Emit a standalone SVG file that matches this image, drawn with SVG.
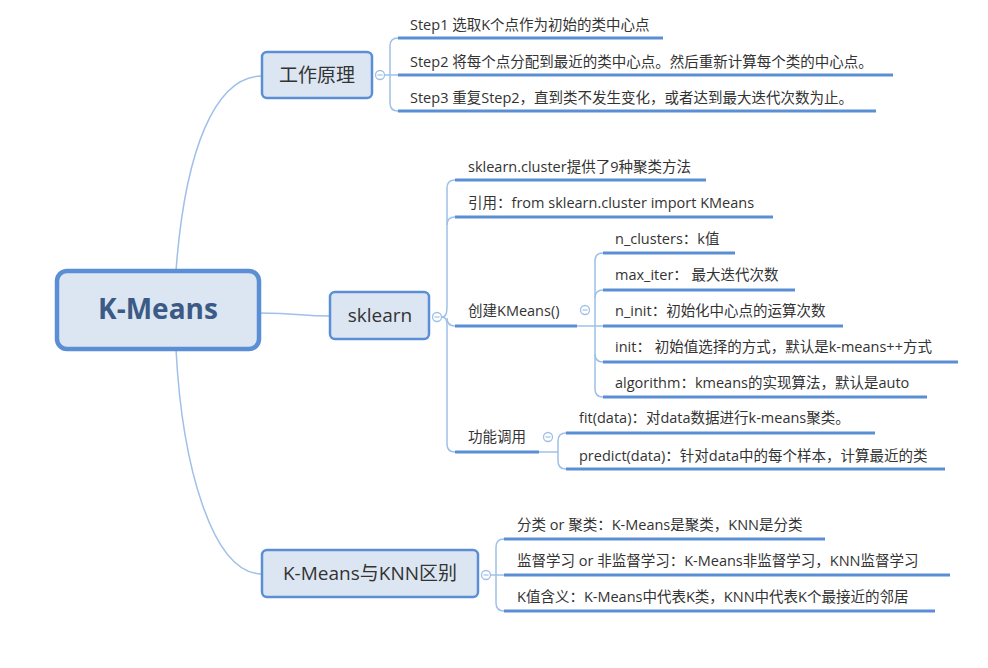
<svg xmlns="http://www.w3.org/2000/svg" width="988" height="668" viewBox="0 0 988 668">
<style>
.bg{fill:#ffffff}
.root{fill:#dce6f2;stroke:#5b8fd5;stroke-width:4.5}
.box{fill:#dce6f2;stroke:#5b8fd5;stroke-width:2.5}
.thin{fill:none;stroke:#9fc0e8;stroke-width:1.5}
.ul{fill:none;stroke:#5b8fd5;stroke-width:3}
.col{fill:#ffffff;stroke:#9fc0e8;stroke-width:1.3}
.minus{stroke:#9fc0e8;stroke-width:1.2}
text{font-family:"Open Sans","Noto Sans CJK SC",sans-serif;fill:#333333}
.t-root{font-size:28px;font-weight:bold;fill:#3b5a85;text-anchor:middle}
.t-l1{font-size:19px;text-anchor:middle}
.t-c{font-size:14.5px}
</style>
<defs>
<g id="collapse"><circle r="4.5" class="col"/><line x1="-2.5" y1="0" x2="2.5" y2="0" class="minus"/></g>
</defs>
<rect class="bg" x="0" y="0" width="988" height="668"/>

<g id="connectors">
<path class="thin" d="M176,271 C185,150 215,76 262,76"/>
<path class="thin" d="M259,313 C300,313 300,316 330,316"/>
<path class="thin" d="M176,349 C182,465 212,574 262,574"/>
<!-- 工作原理 bracket -->
<path class="thin" d="M384.5,75 H398"/>
<path class="thin" d="M390,75 V46 Q390,38 398,38"/>
<path class="thin" d="M390,75 V103 Q390,111 398,111"/>
<!-- sklearn bracket -->
<path class="thin" d="M441.5,317 C446,317 447,314 447,305 V188 Q447,180 455,180"/>
<path class="thin" d="M447,225 Q447,217 455,217"/>
<path class="thin" d="M441.5,317 C446,317 447,320 447,326 V444 Q447,452 455,452"/>
<path class="thin" d="M447,318 Q447,326 455,326"/>
<!-- 创建KMeans bracket -->
<path class="thin" d="M577,326 H603"/>
<path class="thin" d="M595,326 V261 Q595,253 603,253"/>
<path class="thin" d="M595,298 Q595,290 603,290"/>
<path class="thin" d="M595,326 V389 Q595,397 603,397"/>
<path class="thin" d="M595,354 Q595,362 603,362"/>
<!-- 功能调用 bracket -->
<path class="thin" d="M539,452 H558"/>
<path class="thin" d="M558,452 V441 Q558,433 566,433"/>
<path class="thin" d="M558,452 V461 Q558,469 566,469"/>
<!-- KNN bracket -->
<path class="thin" d="M490.5,575 H504"/>
<path class="thin" d="M496,575 V547 Q496,539 504,539"/>
<path class="thin" d="M496,575 V603 Q496,611 504,611"/>
</g>

<g id="node-root">
<rect class="root" x="57" y="271" width="202" height="78" rx="10"/>
<text class="t-root" x="158" y="319">K-Means</text>
</g>

<g id="node-principle">
<rect class="box" x="262" y="52" width="110" height="46" rx="5"/>
<text class="t-l1" x="317" y="82">工作原理</text>
<use href="#collapse" x="380" y="75"/>
</g>
<g id="node-step1"><path class="ul" d="M398,38 H663"/><text class="t-c" x="410" y="30">Step1 选取K个点作为初始的类中心点</text></g>
<g id="node-step2"><path class="ul" d="M398,75 H893"/><text class="t-c" x="410" y="67">Step2 将每个点分配到最近的类中心点。然后重新计算每个类的中心点。</text></g>
<g id="node-step3"><path class="ul" d="M398,111 H876"/><text class="t-c" x="410" y="103">Step3 重复Step2，直到类不发生变化，或者达到最大迭代次数为止。</text></g>

<g id="node-sklearn">
<rect class="box" x="330" y="292" width="99" height="47" rx="5"/>
<text class="t-l1" x="380" y="322">sklearn</text>
<use href="#collapse" x="437" y="317"/>
</g>
<g id="node-cluster"><path class="ul" d="M455,180 H706"/><text class="t-c" x="468" y="172">sklearn.cluster提供了9种聚类方法</text></g>
<g id="node-import"><path class="ul" d="M455,217 H773"/><text class="t-c" x="468" y="208">引用：from sklearn.cluster import KMeans</text></g>
<g id="node-create">
<path class="ul" d="M455,326 H577"/><text class="t-c" x="468" y="316">创建KMeans()</text>
<use href="#collapse" x="585" y="310"/>
</g>
<g id="node-nclusters"><path class="ul" d="M603,253 H735"/><text class="t-c" x="615" y="244">n_clusters：k值</text></g>
<g id="node-maxiter"><path class="ul" d="M603,290 H795"/><text class="t-c" x="615" y="280">max_iter： 最大迭代次数</text></g>
<g id="node-ninit"><path class="ul" d="M603,326 H843"/><text class="t-c" x="615" y="316">n_init：初始化中心点的运算次数</text></g>
<g id="node-init"><path class="ul" d="M603,362 H958"/><text class="t-c" x="615" y="352">init： 初始值选择的方式，默认是k-means++方式</text></g>
<g id="node-algorithm"><path class="ul" d="M603,397 H927"/><text class="t-c" x="615" y="388">algorithm：kmeans的实现算法，默认是auto</text></g>
<g id="node-func">
<path class="ul" d="M455,452 H539"/><text class="t-c" x="468" y="442">功能调用</text>
<use href="#collapse" x="548" y="437"/>
</g>
<g id="node-fit"><path class="ul" d="M566,433 H875"/><text class="t-c" x="579" y="423">fit(data)：对data数据进行k-means聚类。</text></g>
<g id="node-predict"><path class="ul" d="M566,469 H945"/><text class="t-c" x="579" y="461">predict(data)：针对data中的每个样本，计算最近的类</text></g>

<g id="node-knn">
<rect class="box" x="262" y="550" width="216" height="47" rx="5"/>
<text class="t-l1" x="370" y="580">K-Means与KNN区别</text>
<use href="#collapse" x="486" y="575"/>
</g>
<g id="node-cls"><path class="ul" d="M504,539 H825"/><text class="t-c" x="517" y="530">分类 or 聚类：K-Means是聚类，KNN是分类</text></g>
<g id="node-sup"><path class="ul" d="M504,575 H950"/><text class="t-c" x="517" y="566">监督学习 or 非监督学习：K-Means非监督学习，KNN监督学习</text></g>
<g id="node-kval"><path class="ul" d="M504,611 H935"/><text class="t-c" x="517" y="602">K值含义：K-Means中代表K类，KNN中代表K个最接近的邻居</text></g>
</svg>
